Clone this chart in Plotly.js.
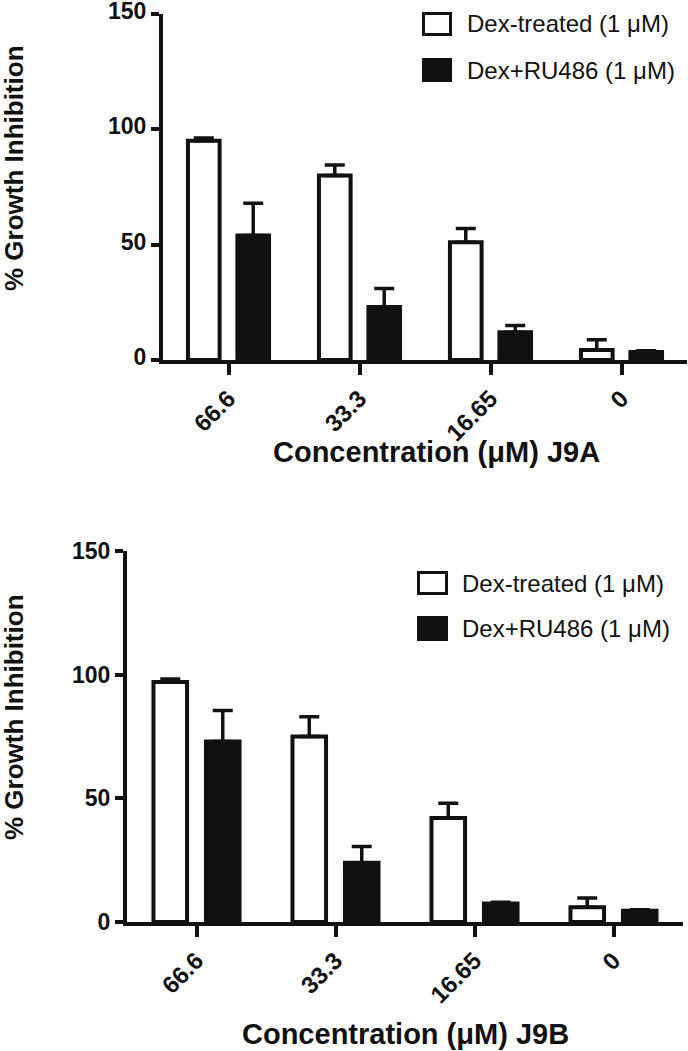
<!DOCTYPE html>
<html>
<head>
<meta charset="utf-8">
<script src="https://cdn.plot.ly/plotly-3.0.1.min.js"></script>
<style>
  html, body { margin: 0; padding: 0; background: #fff; }
  #chart { width: 688px; height: 1051px; }
</style>
</head>
<body>
<div id="chart"></div>
<script>
// ---- data ----
const categories = ['66.6', '33.3', '16.65', '0'];
const seriesNames = ['Dex-treated (1 μM)', 'Dex+RU486 (1 μM)'];
const xTitles = ['Concentration (μM) J9A', 'Concentration (μM) J9B'];
const yTitle = '% Growth Inhibition';
const yTicks = [0, 50, 100, 150];

const j9aDex = [95, 80, 51, 4.3];
const j9aDexErr = [1.2, 4.5, 6, 4.5];
const j9aRu = [54, 23, 12, 3.5];
const j9aRuErr = [14, 8, 3, 0.5];

const j9bDex = [97, 75, 42, 6];
const j9bDexErr = [1.2, 8, 6, 3.7];
const j9bRu = [73, 24, 7.5, 4.5];
const j9bRuErr = [12.5, 6.5, 0.5, 0.5];

// ---- helpers (layout only) ----
const W = 688, H = 1051;
const px = x => x / W;
const py = y => 1 - y / H;
const FONT = 'Liberation Sans, Arial, sans-serif';
const BLACK = '#111111';

function barTrace(vals, errs, fill, xa, ya) {
  return {
    type: 'bar',
    x: categories,
    y: vals,
    xaxis: xa,
    yaxis: ya,
    showlegend: false,
    marker: { color: fill, line: { color: BLACK, width: 4 } },
    error_y: {
      type: 'data', symmetric: false, array: errs,
      arrayminus: errs.map(() => 0),
      color: BLACK, thickness: 3.5, width: 10
    },
    hoverinfo: 'x+y'
  };
}

const data = [
  barTrace(j9aDex, j9aDexErr, '#ffffff', 'x', 'y'),
  barTrace(j9aRu, j9aRuErr, BLACK, 'x', 'y'),
  barTrace(j9bDex, j9bDexErr, '#ffffff', 'x2', 'y2'),
  barTrace(j9bRu, j9bRuErr, BLACK, 'x2', 'y2')
];
data[0].name = data[2].name = seriesNames[0];
data[1].name = data[3].name = seriesNames[1];

function xAxis(domain, anchor) {
  return {
    domain: domain, anchor: anchor, type: 'category',
    range: [-0.5, 3.5], showgrid: false, zeroline: false,
    showline: true, linecolor: BLACK, linewidth: 4,
    ticks: 'outside', ticklen: 11, tickwidth: 4, tickcolor: BLACK,
    tickangle: -45, ticklabeloverflow: 'allow',
    tickfont: { family: FONT, size: 24, color: BLACK, weight: 'bold' },
    fixedrange: true
  };
}
function yAxis(domain, anchor, shift) {
  return {
    domain: domain, anchor: anchor,
    range: [0, 150], tickvals: yTicks, showgrid: false, zeroline: false,
    showline: true, linecolor: BLACK, linewidth: 4,
    ticks: 'outside', ticklen: 8, tickwidth: 4, tickcolor: BLACK,
    ticklabeloverflow: 'allow', ticklabelshift: shift,
    tickfont: { family: FONT, size: 23, color: BLACK, weight: 'bold' },
    fixedrange: true
  };
}

const legendPos = [
  { bx: [422, 452], rows: [[12, 36], [58, 82]], tx: 465 },
  { bx: [417, 448], rows: [[571, 595], [616, 641]], tx: 460 }
];

const shapes = [];
const annotations = [];
legendPos.forEach(lp => {
  lp.rows.forEach((r, i) => {
    shapes.push({
      type: 'rect', xref: 'paper', yref: 'paper',
      x0: px(lp.bx[0] + 1.5), x1: px(lp.bx[1] - 1.5),
      y0: py(r[0] + 1.5), y1: py(r[1] - 1.5),
      fillcolor: i === 0 ? '#ffffff' : BLACK,
      line: { color: BLACK, width: 3 }
    });
    annotations.push({
      xref: 'paper', yref: 'paper', x: px(lp.tx), y: py((r[0] + r[1]) / 2),
      xanchor: 'left', yanchor: 'middle', showarrow: false,
      text: seriesNames[i],
      font: { family: FONT, size: 24, color: BLACK }
    });
  });
});

// y titles
[[14, 168], [14, 717]].forEach(p => {
  annotations.push({
    xref: 'paper', yref: 'paper', x: px(p[0]), y: py(p[1]),
    xanchor: 'center', yanchor: 'middle', showarrow: false,
    textangle: -90, text: yTitle,
    font: { family: FONT, size: 26, color: BLACK, weight: 'bold' }
  });
});
// x titles
[[436, 452], [405, 1034]].forEach((p, i) => {
  annotations.push({
    xref: 'paper', yref: 'paper', x: px(p[0]), y: py(p[1]),
    xanchor: 'center', yanchor: 'middle', showarrow: false,
    text: xTitles[i],
    font: { family: FONT, size: 29, color: BLACK, weight: 'bold' }
  });
});

const layout = {
  width: W, height: H,
  margin: { l: 0, r: 0, t: 0, b: 0, autoexpand: false },
  paper_bgcolor: '#ffffff', plot_bgcolor: '#ffffff',
  barmode: 'group', bargap: 0.245, bargroupgap: 0.36,
  showlegend: false,
  xaxis: xAxis([px(163), px(687)], 'y'),
  yaxis: yAxis([py(360), py(14)], 'x', -3),
  xaxis2: xAxis([px(127), px(683)], 'y2'),
  yaxis2: yAxis([py(922), py(551)], 'x2', 0),
  shapes: shapes,
  annotations: annotations
};

Plotly.newPlot('chart', data, layout, { displayModeBar: false, staticPlot: true });
</script>
</body>
</html>
